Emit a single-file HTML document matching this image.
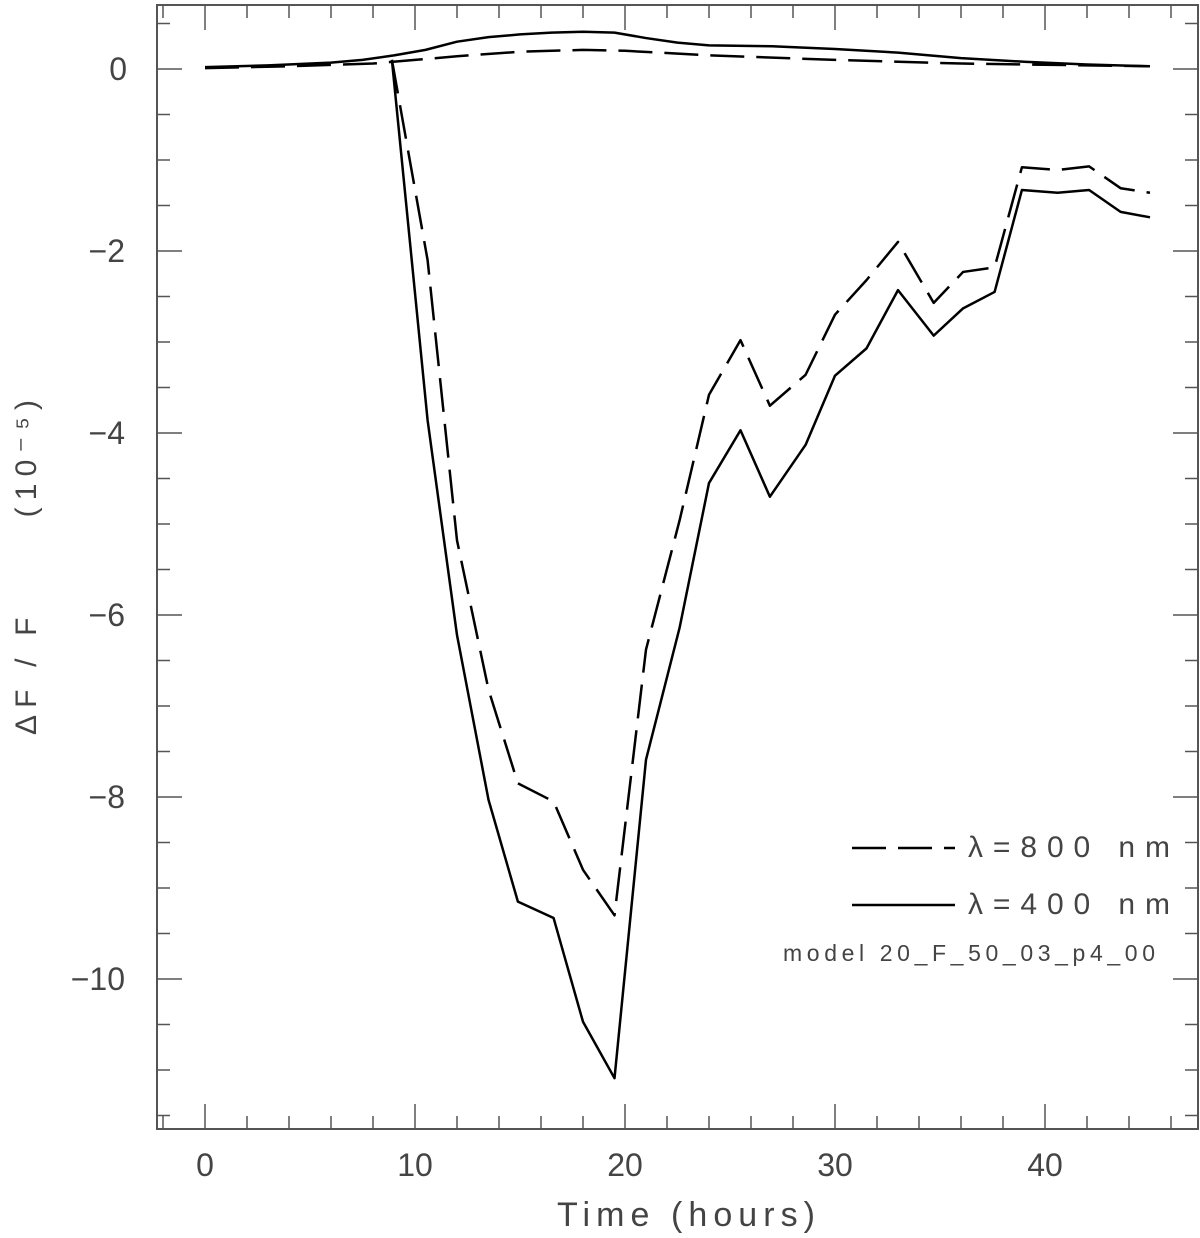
<!DOCTYPE html>
<html><head><meta charset="utf-8"><style>
html,body{margin:0;padding:0;background:#fff}
svg{display:block}
text{font-family:"Liberation Sans",sans-serif;fill:#444}
</style></head><body>
<svg id="chart" width="1200" height="1238" viewBox="0 0 1200 1238" xmlns="http://www.w3.org/2000/svg">
<rect x="157" y="5" width="1041" height="1124" fill="none" stroke="#555" stroke-width="2"/>
<g id="ticks"></g>
<g id="labels"></g>
<g id="series"></g>
<text x="557" y="1226" font-size="34" textLength="258" lengthAdjust="spacing">Time (hours)</text>
<text transform="translate(36,735) rotate(-90)" font-size="30" textLength="335" lengthAdjust="spacing" xml:space="preserve">ΔF / F      (10⁻⁵)</text>
<g>
<line x1="852" y1="848" x2="955" y2="848" stroke="#000" stroke-width="2.5" stroke-dasharray="34,12"/>
<text x="968" y="849" font-size="30" textLength="202" lengthAdjust="spacing" dominant-baseline="middle">λ=800 nm</text>
<line x1="852" y1="905" x2="955" y2="905" stroke="#000" stroke-width="2.5"/>
<text x="968" y="906" font-size="30" textLength="202" lengthAdjust="spacing" dominant-baseline="middle">λ=400 nm</text>
<text x="783" y="961" font-size="23" textLength="372" lengthAdjust="spacing">model 20_F_50_03_p4_00</text>
</g>
</svg>
<script>
const xTicks=[0,10,20,30,40];
const yTicks=[0,-2,-4,-6,-8,-10];
const solidUpperT=[0,3,6,7.5,9,10.5,12,13.5,15,16.5,18,19.5,21,22.5,24,27,30,33,36,39,42,45];
const solidUpperV=[0.02,0.04,0.07,0.1,0.15,0.21,0.3,0.35,0.38,0.4,0.41,0.4,0.34,0.29,0.26,0.25,0.22,0.18,0.12,0.08,0.05,0.03];
const dashUpperT=[0,4,8,10,12,15,18,20,24,30,36,45];
const dashUpperV=[0.01,0.03,0.06,0.1,0.14,0.19,0.21,0.2,0.15,0.1,0.06,0.03];
const dipT=[8.9,10.6,12.0,13.5,14.9,16.6,18.0,19.5,21.0,22.6,24.0,25.5,26.9,28.6,30.0,31.5,33.0,34.7,36.1,37.6,38.9,40.6,42.1,43.6,45.0];
const solidDipV=[0.1,-3.86,-6.22,-8.03,-9.15,-9.33,-10.47,-11.09,-7.59,-6.14,-4.55,-3.97,-4.70,-4.13,-3.37,-3.07,-2.43,-2.93,-2.63,-2.45,-1.33,-1.36,-1.33,-1.57,-1.63];
const dashDipV=[0.1,-2.1,-5.18,-6.82,-7.85,-8.05,-8.8,-9.30,-6.38,-4.96,-3.58,-2.98,-3.70,-3.36,-2.70,-2.32,-1.90,-2.57,-2.23,-2.18,-1.08,-1.11,-1.07,-1.31,-1.36];

const NS="http://www.w3.org/2000/svg";
const xs=t=>205+t*21;
const ys=v=>69-v*91;
const X0=157,X1=1198,Y0=5,Y1=1129;
const tg=document.getElementById('ticks');
function ln(x1,y1,x2,y2,name){const l=document.createElementNS(NS,'line');
l.setAttribute('x1',x1);l.setAttribute('y1',y1);l.setAttribute('x2',x2);l.setAttribute('y2',y2);
l.setAttribute('stroke','#555');l.setAttribute('stroke-width','1.5');


tg.appendChild(l);}
for(let t=-2;t<=48;t+=2){const x=xs(t);if(x<X0||x>X1)continue;const L=(t%10===0)?25:13;
ln(x,Y1,x,Y1-L,'x-tick');ln(x,Y0,x,Y0+L,'x-tick-top');}
for(let v=0.5;v>=-11.5;v-=0.5){const y=ys(v);if(y<Y0||y>Y1)continue;const L=(Math.abs(v%2)<1e-9)?25:13;
ln(X0,y,X0+L,y,'y-tick');ln(X1,y,X1-L,y,'y-tick-right');}
const lg=document.getElementById('labels');
xTicks.forEach(t=>{const e=document.createElementNS(NS,'text');e.setAttribute('x',xs(t));e.setAttribute('y',1176);
e.setAttribute('text-anchor','middle');e.setAttribute('font-size','32');e.textContent=t;


lg.appendChild(e);});
yTicks.forEach(v=>{const e=document.createElementNS(NS,'text');e.setAttribute('x',v===0?127:125);e.setAttribute('y',ys(v)+11);
e.setAttribute('text-anchor','end');e.setAttribute('font-size','32');e.textContent=v<0?'\u2212'+(-v):String(v);


lg.appendChild(e);});
const sg=document.getElementById('series');
function path(T,V,dashed,name){const p=document.createElementNS(NS,'polyline');
p.setAttribute('points',T.map((t,i)=>xs(t)+','+ys(V[i])).join(' '));
p.setAttribute('fill','none');p.setAttribute('stroke','#000');p.setAttribute('stroke-width','2.5');
p.setAttribute('stroke-linejoin','round');
if(dashed)p.setAttribute('stroke-dasharray','34,12');


sg.appendChild(p);}
path(solidUpperT,solidUpperV,false,'line-400nm-upper');
path(dashUpperT,dashUpperV,true,'line-800nm-upper');
path(dipT,solidDipV,false,'line-400nm-dip');
path(dipT,dashDipV,true,'line-800nm-dip');
</script>
</body></html>
